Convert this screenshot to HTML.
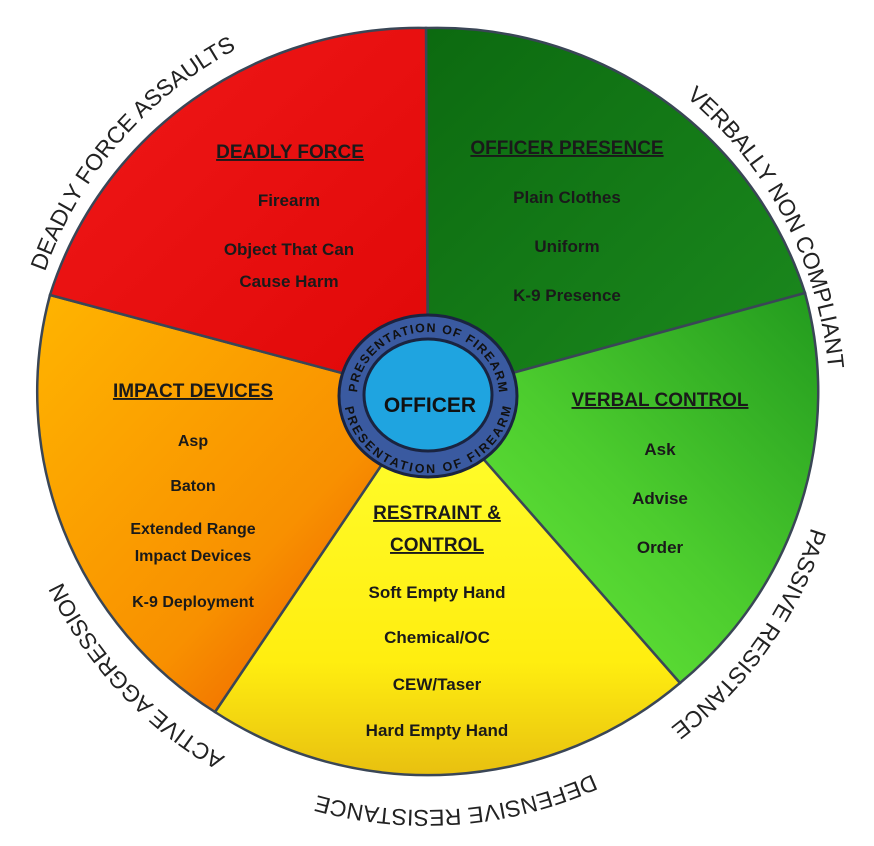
<!DOCTYPE html>
<html><head><meta charset="utf-8"><style>
html,body{margin:0;padding:0;background:#fff;}
svg{display:block;}
.h{font:bold 19px "Liberation Sans",sans-serif;text-decoration:underline;fill:#1a1a1a;}
.i{font:bold 17px "Liberation Sans",sans-serif;fill:#1a1a1a;}
.o{font:23px "Liberation Sans",sans-serif;fill:#222;}
</style></head><body>
<svg width="874" height="846" viewBox="0 0 874 846">
<defs>
<linearGradient id="gr" x1="0" y1="0" x2="1" y2="1"><stop offset="0" stop-color="#f01818"/><stop offset="1" stop-color="#e00808"/></linearGradient>
<linearGradient id="gg" x1="0" y1="0" x2="1" y2="1"><stop offset="0" stop-color="#0c6a10"/><stop offset="1" stop-color="#1c8a1e"/></linearGradient>
<linearGradient id="gl" x1="1" y1="0" x2="0" y2="1"><stop offset="0" stop-color="#229a1e"/><stop offset="0.5" stop-color="#4ccc2e"/><stop offset="1" stop-color="#6ef03c"/></linearGradient>
<linearGradient id="gy" x1="0" y1="0" x2="0" y2="1"><stop offset="0" stop-color="#ffff30"/><stop offset="0.7" stop-color="#ffee10"/><stop offset="1" stop-color="#e8c010"/></linearGradient>
<linearGradient id="go" x1="0" y1="0" x2="1" y2="1"><stop offset="0" stop-color="#ffb400"/><stop offset="0.6" stop-color="#f89000"/><stop offset="1" stop-color="#e84a00"/></linearGradient>
<path id="oc" d="M426,2 A404,404 0 1 1 426,810 A404,404 0 1 1 426,2"/>
<path id="rt" d="M357,396 A71,64 0 1 1 499,396"/>
<path id="rb" d="M344,396 A84,77 0 0 0 512,396"/>
</defs>
<g stroke="#3a4656" stroke-width="2.5">
<path d="M428,396 L426,28 A386,380 0 0 1 805,293 Z" fill="url(#gg)"/>
<path d="M428,396 L805,293 A386,380 0 0 1 680,683 Z" fill="url(#gl)"/>
<path d="M428,396 L680,683 A386,380 0 0 1 215,712 Z" fill="url(#gy)"/>
<path d="M428,396 L215,712 A386,380 0 0 1 50,295 Z" fill="url(#go)"/>
<path d="M428,396 L50,295 A386,380 0 0 1 426,28 Z" fill="url(#gr)"/>
</g>
<ellipse cx="428" cy="396" rx="89" ry="81" fill="#3a5aa0" stroke="#1a2440" stroke-width="3"/>
<ellipse cx="428" cy="395" rx="64" ry="56" fill="#1fa4e0" stroke="#1a2440" stroke-width="3"/>
<text x="430" y="412" text-anchor="middle" style="font:bold 21px 'Liberation Sans',sans-serif;fill:#111">OFFICER</text>
<text style="font:bold 12.5px 'Liberation Sans',sans-serif;fill:#111"><textPath href="#rt" startOffset="50%" text-anchor="middle" textLength="205" lengthAdjust="spacing">PRESENTATION OF FIREARM</textPath></text>
<text style="font:bold 12.5px 'Liberation Sans',sans-serif;fill:#111"><textPath href="#rb" startOffset="50%" text-anchor="middle" textLength="230" lengthAdjust="spacing">PRESENTATION OF FIREARM</textPath></text>

<g text-anchor="middle">
<text class="h" x="290" y="158">DEADLY FORCE</text>
<text class="i" x="289" y="206">Firearm</text>
<text class="i" x="289" y="255">Object That Can</text>
<text class="i" x="289" y="287">Cause Harm</text>

<text class="h" x="567" y="154">OFFICER PRESENCE</text>
<text class="i" x="567" y="203">Plain Clothes</text>
<text class="i" x="567" y="252">Uniform</text>
<text class="i" x="567" y="301">K-9 Presence</text>

<text class="h" x="193" y="397">IMPACT DEVICES</text>
<text class="i" x="193" y="446" style="font-size:16px">Asp</text>
<text class="i" x="193" y="491" style="font-size:16px">Baton</text>
<text class="i" x="193" y="534" style="font-size:16px">Extended Range</text>
<text class="i" x="193" y="561" style="font-size:16px">Impact Devices</text>
<text class="i" x="193" y="607" style="font-size:16px">K-9 Deployment</text>

<text class="h" x="660" y="406">VERBAL CONTROL</text>
<text class="i" x="660" y="455">Ask</text>
<text class="i" x="660" y="504">Advise</text>
<text class="i" x="660" y="553">Order</text>

<text class="h" x="437" y="519">RESTRAINT &amp;</text>
<text class="h" x="437" y="551">CONTROL</text>
<text class="i" x="437" y="598">Soft Empty Hand</text>
<text class="i" x="437" y="643">Chemical/OC</text>
<text class="i" x="437" y="690">CEW/Taser</text>
<text class="i" x="437" y="736">Hard Empty Hand</text>
</g>

<text class="o"><textPath href="#oc" startOffset="2190" text-anchor="middle">DEADLY FORCE ASSAULTS</textPath></text>
<text class="o"><textPath href="#oc" startOffset="440" text-anchor="middle">VERBALLY NON COMPLIANT</textPath></text>
<text class="o"><textPath href="#oc" startOffset="882" text-anchor="middle">PASSIVE RESISTANCE</textPath></text>
<text class="o"><textPath href="#oc" startOffset="1238" text-anchor="middle">DEFENSIVE RESISTANCE</textPath></text>
<text class="o"><textPath href="#oc" startOffset="1600" text-anchor="middle">ACTIVE AGGRESSION</textPath></text>
</svg>
</body></html>
